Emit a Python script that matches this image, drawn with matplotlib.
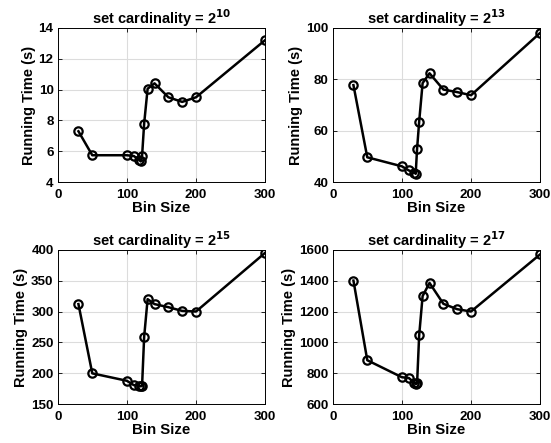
import numpy as np
import matplotlib.pyplot as plt

plt.rcParams['font.family'] = ['Liberation Sans', 'DejaVu Sans']
plt.rcParams['font.weight'] = 'bold'

# Données
bin_size = [30, 50, 100, 110, 118, 120, 122, 125, 130, 140, 160, 180, 200, 300]
time_2_10 = [7.3, 5.75, 5.75, 5.7, 5.45, 5.35, 5.7, 7.8, 10.05, 10.4, 9.5, 9.2, 9.5, 13.2]
time_2_13 = [77.7, 49.7, 46.2, 44.6, 43.8, 43.3, 53.0, 63.5, 78.5, 82.3, 76.0, 75.0, 73.8, 98.0]
time_2_15 = [312, 200, 188, 181, 180, 179, 180, 259, 320, 312, 307, 301, 300, 395]
time_2_17 = [1400, 885, 775, 770, 740, 730, 735, 1045, 1300, 1385, 1250, 1215, 1200, 1570]

exposants = ['10', '13', '15', '17']
series = [time_2_10, time_2_13, time_2_15, time_2_17]
ylims = [(4, 14), (40, 100), (150, 400), (600, 1600)]
yticks = [np.arange(4, 15, 2), np.arange(40, 101, 20),
          np.arange(150, 401, 50), np.arange(600, 1601, 200)]

fig = plt.figure(figsize=(5.51, 4.43), dpi=100)
positions = [[0.1047, 0.5885, 0.3766, 0.349], [0.6038, 0.5885, 0.3766, 0.349],
             [0.1047, 0.0874, 0.3766, 0.349], [0.6038, 0.0874, 0.3766, 0.349]]

for pos, exp, y, yl, yt in zip(positions, exposants, series, ylims, yticks):
    ax = fig.add_axes(pos)
    ax.plot(bin_size, y, color='black', lw=1.8, marker='o', ms=6,
            mfc='none', mec='black', mew=1.6)
    ax.set_xlim(0, 300)
    ax.set_ylim(*yl)
    ax.set_xticks([0, 100, 200, 300])
    ax.set_yticks(yt)
    ax.grid(True, color='#dcdcdc', lw=0.8)
    ax.set_axisbelow(True)
    ax.tick_params(direction='in', length=3, width=0.6, labelsize=9.6,
                   top=True, right=True)
    ax.tick_params(axis='x', pad=5)
    ax.tick_params(axis='y', pad=3)
    for s in ax.spines.values():
        s.set_linewidth(0.7)
    ax.set_xlabel('Bin Size', fontsize=10.8, fontweight='bold', labelpad=0)
    ax.set_ylabel('Running Time (s)', fontsize=10.5, fontweight='bold', labelpad=2)
    ax.set_title(r'set cardinality = 2$^{\mathbf{%s}}$' % exp, fontsize=10.5,
                 fontweight='bold', pad=3)

fig.savefig('out.png', dpi=100)
